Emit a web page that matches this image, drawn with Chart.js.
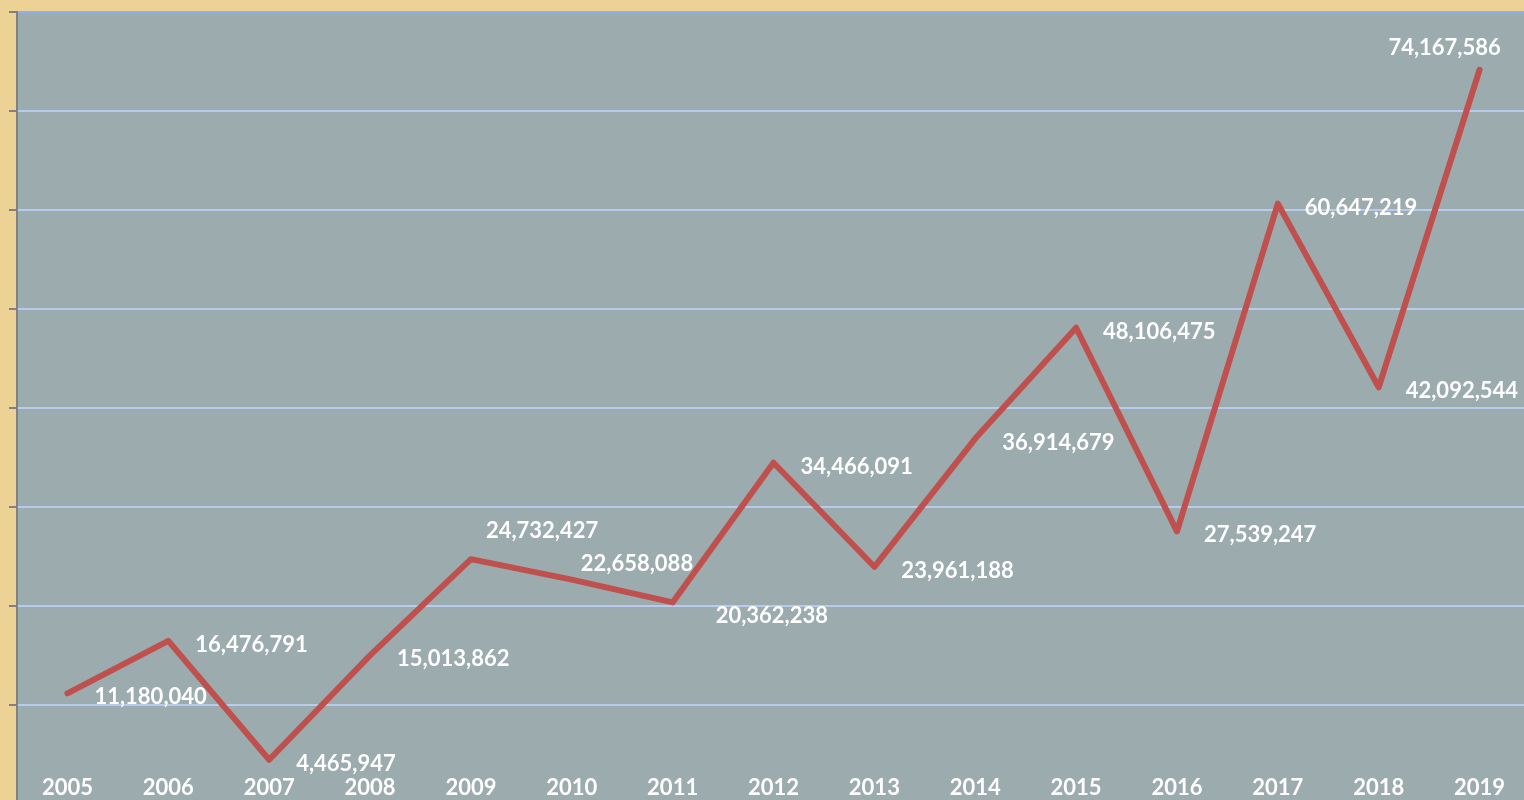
<!DOCTYPE html>
<html>
<head>
<meta charset="utf-8">
<script src="https://cdn.jsdelivr.net/npm/chart.js@4.4.1/dist/chart.umd.min.js"></script>
<style>
    html, body { margin: 0; padding: 0; overflow: hidden; background: #EDD296; }
    #wrap { width: 1530px; height: 804px; position: relative; }
</style>
</head>
<body>
<div id="wrap"><canvas id="visitors-chart"></canvas></div>
<script>
const years = ['2005', '2006', '2007', '2008', '2009', '2010', '2011', '2012',
    '2013', '2014', '2015', '2016', '2017', '2018', '2019'];
const visitors = [11180040, 16476791, 4465947, 15013862, 24732427, 22658088, 20362238,
    34466091, 23961188, 36914679, 48106475, 27539247, 60647219, 42092544, 74167586];
const valueLabels = ['11,180,040', '16,476,791', '4,465,947', '15,013,862', '24,732,427',
    '22,658,088', '20,362,238', '34,466,091', '23,961,188', '36,914,679', '48,106,475',
    '27,539,247', '60,647,219', '42,092,544', '74,167,586'];

// where a label sits next to its point (most go right of the point)
const labelNudges = {
    4: { dx: 15, dy: -28 },
    5: { dx: 9, dy: -16 },
    6: { dx: 43, dy: 13 },
    14: { dx: -35, dy: -22, align: 'center' }
};

const plotBackground = {
    id: 'plotBackground',
    beforeDraw(chart) {
        const { ctx, chartArea } = chart;
        ctx.save();
        ctx.fillStyle = '#9BABAE';
        ctx.fillRect(chartArea.left, chartArea.top, chartArea.right - chartArea.left, chartArea.bottom - chartArea.top);
        ctx.restore();
    }
};

const pointLabels = {
    id: 'pointLabels',
    afterDatasetsDraw(chart) {
        const { ctx } = chart;
        const meta = chart.getDatasetMeta(0);
        ctx.save();
        ctx.font = 'bold 22px Lato';
        ctx.fillStyle = '#FFFFFF';
        ctx.textBaseline = 'middle';
        meta.data.forEach((pt, i) => {
            const nudge = labelNudges[i] || { dx: 27, dy: 4 };
            ctx.textAlign = nudge.align || 'left';
            ctx.fillText(valueLabels[i], pt.x + nudge.dx, pt.y + nudge.dy);
        });
        ctx.restore();
    }
};

new Chart(document.getElementById('visitors-chart'), {
    type: 'line',
    data: {
        labels: years,
        datasets: [{
            data: visitors,
            borderColor: '#C0504D',
            borderWidth: 6,
            borderCapStyle: 'round',
            borderJoinStyle: 'round',
            pointRadius: 0,
            tension: 0
        }]
    },
    options: {
        responsive: true,
        maintainAspectRatio: false,
        animation: false,
        layout: { padding: { left: 9, top: 12, right: 0, bottom: 0 } },
        plugins: {
            legend: { display: false },
            tooltip: { enabled: false }
        },
        scales: {
            y: {
                min: 0,
                max: 80000000,
                ticks: { stepSize: 10000000, display: false },
                grid: {
                    color: (c) => c.tick && c.tick.value === 80000000 ? '#8EB1EA' : '#B8CAEE',
                    lineWidth: 2,
                    drawTicks: true,
                    tickLength: 8,
                    tickColor: '#808080'
                },
                border: { color: '#808080', width: 2 }
            },
            x: {
                type: 'category',
                axis: 'x',
                position: { y: 3000000 },
                offset: true,
                grid: { display: false, drawTicks: false },
                border: { display: false },
                ticks: {
                    color: '#FFFFFF',
                    font: { family: 'Lato', weight: 'bold', size: 22 },
                    padding: 0,
                    maxRotation: 0,
                    autoSkip: false
                }
            }
        }
    },
    plugins: [plotBackground, pointLabels]
});
</script>
</body>
</html>
